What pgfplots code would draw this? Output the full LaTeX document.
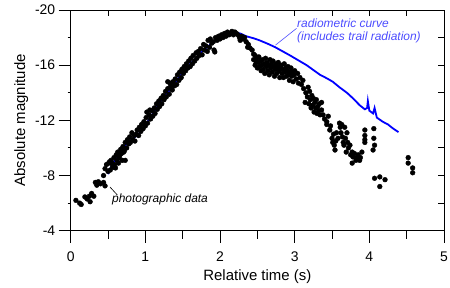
\documentclass[border=0pt]{standalone}
\usepackage{pgfplots}
\pgfplotsset{compat=1.18}
\usepackage{fontspec}
\setmainfont{Liberation Sans}
\usetikzlibrary{calc}
\definecolor{annblue}{rgb}{0.3,0.3,1}
\pgfplotsset{base/.style={width=373.3bp,height=220.7bp,scale only axis,
  xmin=0,xmax=5,ymin=-20,ymax=-4,y dir=reverse,
  axis line style={line width=1pt},
  every tick/.style={black,line width=1pt}}}
\pgfplotstableread{
t m
0.07 -6.2
0.12 -6.0
0.14 -5.9
0.19 -6.45
0.22 -6.3
0.26 -6.1
0.25 -6.5
0.28 -6.7
0.31 -6.5
0.33 -7.5
0.35 -7.3
0.37 -7.55
0.40 -7.4
0.44 -7.5
0.46 -7.25
0.44 -8.0
0.46 -8.5
0.48 -8.8
0.52 -9.0
0.55 -8.9
0.57 -8.6
0.60 -8.55
0.64 -8.9
0.66 -9.5
0.69 -9.1
0.71 -9.7
0.73 -9.1
0.50 -8.3
0.51 -8.9
0.53 -8.4
0.54 -9.1
0.56 -8.7
0.58 -9.3
0.59 -8.8
0.61 -9.5
0.62 -9.1
0.63 -9.7
0.65 -9.3
0.67 -9.9
0.68 -9.6
0.70 -10.1
0.72 -9.8
0.73 -10.4
0.75 -10.0
0.76 -10.6
0.78 -10.3
0.79 -10.8
0.80 -10.4
0.82 -11.1
0.83 -10.6
0.85 -10.9
0.86 -10.5
0.88 -11.0
0.89 -11.3
0.91 -10.9
0.92 -11.5
0.94 -11.2
0.95 -11.7
0.97 -11.4
0.98 -11.9
1.00 -11.6
1.01 -12.2
1.02 -12.6
1.03 -11.8
1.05 -12.4
1.06 -12.75
1.07 -12.1
1.09 -12.7
1.10 -12.3
1.12 -12.9
1.13 -12.5
1.15 -13.2
1.16 -12.8
1.18 -13.4
1.19 -13.0
1.21 -13.6
1.22 -13.2
1.24 -13.8
1.25 -13.5
1.27 -14.1
1.28 -13.7
1.30 -14.8
1.30 -14.3
1.32 -13.9
1.33 -14.7
1.34 -14.5
1.36 -14.2
1.37 -14.8
1.39 -14.5
1.40 -15.0
1.42 -14.6
1.43 -15.3
1.45 -14.9
1.46 -15.5
1.48 -15.1
1.49 -15.7
1.51 -15.4
1.52 -15.9
1.54 -15.6
1.55 -16.1
1.57 -15.8
1.58 -16.3
1.60 -15.9
1.61 -16.5
1.63 -16.1
1.64 -16.7
1.66 -16.3
1.68 -16.9
1.69 -16.5
1.71 -17.0
1.72 -16.7
1.74 -17.2
1.76 -16.75
1.78 -17.5
1.79 -17.1
1.81 -17.4
1.83 -17.0
1.84 -17.8
1.86 -17.3
1.87 -17.9
1.89 -17.6
1.91 -17.7
1.93 -16.96
1.92 -17.1
1.94 -18.0
1.96 -17.8
1.98 -18.1
2.00 -17.9
2.02 -18.2
2.04 -18.0
2.06 -18.3
2.08 -18.1
2.10 -18.4
2.12 -18.2
2.14 -18.3
2.16 -18.45
2.18 -18.2
2.20 -18.4
2.22 -18.3
2.24 -18.2
2.26 -18.0
2.27 -17.8
2.29 -18.1
2.31 -17.9
2.33 -18.0
2.35 -17.7
2.37 -17.3
2.38 -17.5
2.40 -17.25
2.43 -17.1
2.45 -16.8
2.47 -16.7
2.49 -16.5
2.45 -16.4
2.47 -16.0
2.48 -16.3
2.50 -15.8
2.51 -16.2
2.52 -16.6
2.53 -15.9
2.54 -16.3
2.55 -15.6
2.56 -16.0
2.57 -16.4
2.58 -15.7
2.59 -16.1
2.60 -15.4
2.61 -16.5
2.62 -15.9
2.63 -16.2
2.64 -15.6
2.65 -16.0
2.66 -15.3
2.67 -16.4
2.68 -15.8
2.69 -16.1
2.70 -15.5
2.71 -16.3
2.72 -15.9
2.73 -15.2
2.74 -15.7
2.75 -16.1
2.76 -15.4
2.77 -15.9
2.78 -16.2
2.79 -15.6
2.80 -15.1
2.81 -15.8
2.82 -16.0
2.83 -15.4
2.84 -15.7
2.85 -15.1
2.86 -16.1
2.87 -15.5
2.88 -15.8
2.89 -15.2
2.90 -15.6
2.91 -15.9
2.92 -15.3
2.93 -14.9
2.94 -15.5
2.95 -15.8
2.96 -15.2
2.97 -15.5
2.98 -14.8
2.99 -15.3
3.00 -15.6
3.02 -15.0
3.04 -15.4
3.05 -14.7
3.07 -15.1
3.09 -14.6
3.11 -14.9
3.12 -14.3
3.14 -13.3
3.15 -14.0
3.17 -13.7
3.18 -14.4
3.19 -13.2
3.20 -14.1
3.21 -13.5
3.22 -12.9
3.23 -13.8
3.24 -13.1
3.25 -13.6
3.26 -12.6
3.27 -13.3
3.28 -12.9
3.29 -13.5
3.30 -12.5
3.31 -13.0
3.32 -12.7
3.33 -13.2
3.34 -12.4
3.36 -13.3
3.36 -12.75
3.38 -12.4
3.40 -12.1
3.43 -11.9
3.43 -11.7
3.45 -12.3
3.47 -11.3
3.48 -11.6
3.50 -10.7
3.51 -10.4
3.52 -11.0
3.53 -10.2
3.54 -9.85
3.55 -10.5
3.56 -11.1
3.58 -10.7
3.60 -11.8
3.61 -11.5
3.62 -11.1
3.63 -11.7
3.64 -10.8
3.65 -10.4
3.66 -10.2
3.67 -11.5
3.68 -10.7
3.69 -9.7
3.70 -11.1
3.71 -10.4
3.72 -10.0
3.74 -10.2
3.75 -9.5
3.77 -9.7
3.77 -8.9
3.78 -9.35
3.80 -9.6
3.82 -9.1
3.83 -9.3
3.85 -9.5
3.87 -9.1
3.88 -9.3
3.90 -9.7
3.94 -11.3
3.94 -10.9
3.94 -10.6
3.94 -10.4
4.06 -11.4
4.06 -10.7
4.07 -10.2
4.05 -9.85
4.07 -7.8
4.14 -7.9
4.14 -7.2
4.21 -7.7
4.52 -9.3
4.52 -8.9
4.58 -8.55
4.58 -8.2
}\photo
\pgfplotstableread{
t m
0.50 -8.1
0.53 -8.5
0.60 -9.2
0.66 -9.7
0.75 -10.3
0.84 -10.7
0.97 -11.3
1.03 -11.9
1.09 -12.4
1.17 -13.1
1.26 -13.8
1.33 -14.2
1.42 -14.9
1.52 -15.6
1.62 -16.2
1.70 -16.6
1.76 -17.0
1.85 -17.4
1.93 -17.8
2.01 -18.1
2.09 -18.2
2.18 -18.35
2.27 -18.3
2.35 -18.1
2.45 -17.95
2.53 -17.8
2.64 -17.55
2.74 -17.3
2.84 -17.0
2.94 -16.7
3.05 -16.35
3.16 -16.0
3.25 -15.65
3.34 -15.3
3.43 -15.05
3.51 -14.8
3.60 -14.4
3.70 -14.0
3.78 -13.6
3.87 -13.1
3.94 -12.8
3.97 -12.9
3.98 -13.4
4.00 -12.7
4.05 -12.5
4.07 -12.9
4.10 -12.2
4.18 -11.9
4.25 -11.7
4.32 -11.4
4.39 -11.15
}\radio
\begin{document}
\begin{tikzpicture}
\begin{axis}[base,
  xtick={0,1,2,3,4,5}, xticklabels={0,1,2,3,4,5},
  ytick={-20,-16,-12,-8,-4}, yticklabels={-20,-16,-12,-8,-4},
  minor x tick num=1,
  xtick pos=left, ytick pos=left, tick align=outside,
  major tick length=12bp, minor tick length=8bp,
  tick label style={font=\fontsize{14}{16}\selectfont},
  xticklabel style={yshift=-6bp},
  label style={font=\fontsize{15}{18}\selectfont},
  xlabel={Relative time (s)}, ylabel={Absolute magnitude},
  xlabel style={at={(axis description cs:0.5,0)}, anchor=north, yshift=-35bp},
  clip=false]
\addplot[only marks, mark=*, mark size=2.4bp, black] table[x=t,y=m] {\photo};
\addplot[blue, line width=1.8bp] table[x=t,y=m] {\radio};
\draw[annblue, line width=0.6bp] (axis cs:3.025,-18.67) -- (axis cs:2.744,-17.46);
\node[annblue, anchor=base west, inner sep=0pt, font=\fontsize{12}{14}\selectfont\itshape] at (axis cs:3.03,-18.73) {radiometric curve};
\node[annblue, anchor=base west, inner sep=0pt, font=\fontsize{12}{14}\selectfont\itshape] at (axis cs:3.03,-17.78) {(includes trail radiation)};
\draw[black, line width=0.6bp] (axis cs:0.526,-7.17) -- (axis cs:0.624,-6.59);
\node[black, anchor=base west, inner sep=0pt, font=\fontsize{12}{14}\selectfont\itshape] at (axis cs:0.553,-6.07) {photographic data};
\coordinate (bl) at (axis description cs:0,0);
\coordinate (tr) at (axis description cs:1,1);
\end{axis}
\begin{axis}[base, xtick={0,0.5,...,5}, ytick={-20,-18,...,-4},
  xticklabels={}, yticklabels={}, xtick pos=right, ytick pos=right,
  tick align=inside, major tick length=6bp]
\end{axis}
\begin{axis}[base, xtick=\empty, ytick={-18,-14,-10,-6},
  yticklabels={}, ytick pos=left, tick align=outside, major tick length=3bp]
\end{axis}
\pgfresetboundingbox
\path ($(bl)+(-70.7bp,-56.3bp)$) rectangle ($(tr)+(6bp,10bp)$);
\end{tikzpicture}
\end{document}
